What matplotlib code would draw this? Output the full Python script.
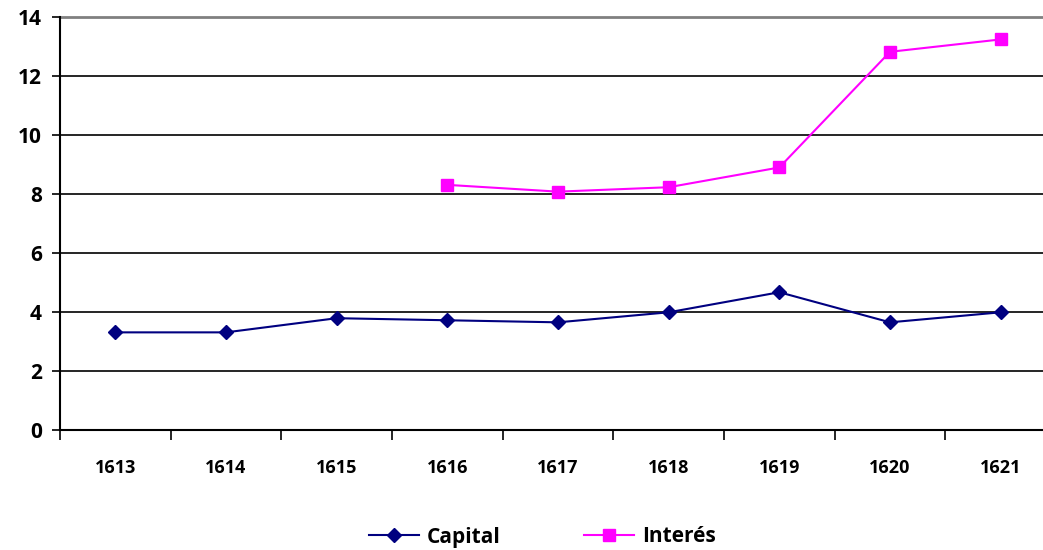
import numpy as np
import matplotlib.pyplot as plt
from matplotlib.lines import Line2D

years = ['1613', '1614', '1615', '1616', '1617', '1618', '1619', '1620', '1621']
capital = [3.32, 3.32, 3.80, 3.73, 3.66, 4.00, 4.68, 3.66, 4.00]
interes = [np.nan, np.nan, np.nan, 8.32, 8.09, 8.24, 8.91, 12.83, 13.25]

plt.rcParams['font.family'] = ['Open Sans', 'DejaVu Sans']
plt.rcParams['font.weight'] = 'bold'

fig = plt.figure(figsize=(10.43, 5.5), dpi=100)
ax = fig.add_axes([60 / 1043, 1 - 430.3 / 550, 996 / 1043, (430.3 - 17.3) / 550])

x = np.arange(len(years))
ax.plot(x, capital, color='#000080', marker='D', markersize=7, linewidth=1.5)
ax.plot(x, interes, color='#FF00FF', marker='s', markersize=8, linewidth=1.5)

ax.set_xlim(-0.5, len(years) - 0.5)
ax.set_ylim(0, 14)
ax.set_yticks(np.arange(0, 15, 2))
for yv in range(2, 14, 2):
    ax.axhline(yv, color='black', linewidth=1.2, zorder=0)
ax.axhline(14, color='#808080', linewidth=2, zorder=0, clip_on=False)

ax.set_xticks(x)
ax.set_xticklabels(years)
ax.set_xticks(np.arange(-0.5, len(years), 1), minor=True)
ax.tick_params(axis='x', which='major', length=0, pad=21, labelsize=13)
ax.tick_params(axis='x', which='minor', length=7, width=1.2, direction='out')
ax.tick_params(axis='y', length=6, width=1.2, direction='out', pad=7, labelsize=15)

for side in ['top', 'right']:
    ax.spines[side].set_visible(False)
for side in ['left', 'bottom']:
    ax.spines[side].set_linewidth(1.5)

handles = [
    Line2D([], [], color='#000080', marker='D', markersize=7, linewidth=1.5),
    Line2D([], [], color='#FF00FF', marker='s', markersize=8, linewidth=1.5),
]
fig.legend(handles, ['Capital', 'Interés'], loc='center', bbox_to_anchor=(0.52, 1 - 537 / 550),
           ncol=2, frameon=False, fontsize=15, handlelength=2.4, handletextpad=0.4,
           columnspacing=4.0)

fig.savefig('out.png', dpi=100)
